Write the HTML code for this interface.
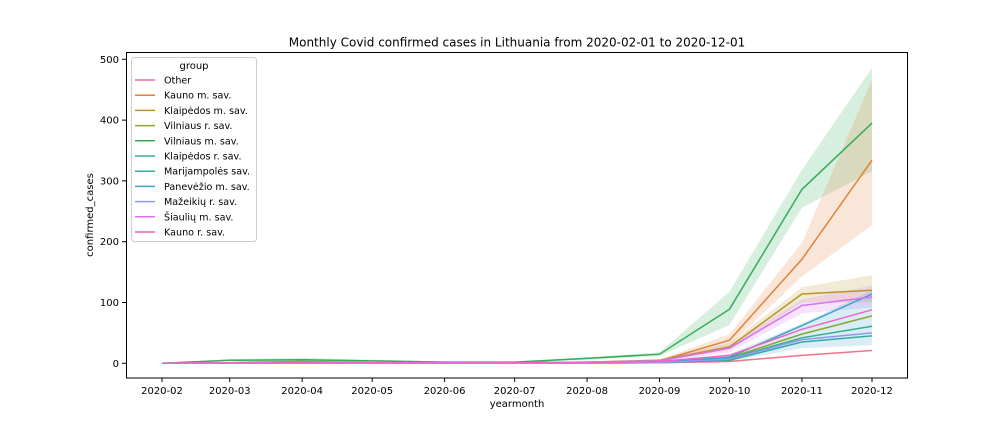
<!DOCTYPE html>
<html><head><meta charset="utf-8"><style>
html,body{margin:0;padding:0;background:#fff;}
svg{display:block;font-family:"DejaVu Sans","Liberation Sans",sans-serif;}
</style></head><body>
<svg id="chart" width="1008" height="432" viewBox="0 0 1008 432">
<text x="517" y="46.5" text-anchor="middle" font-size="12" fill="#000">Monthly Covid confirmed cases in Lithuania from 2020-02-01 to 2020-12-01</text>
<g id="bands"></g>
<g id="lines"></g>
<rect x="126.5" y="52.5" width="781" height="325.5" fill="none" stroke="#000" stroke-width="1"/>
<g id="xaxis"></g>
<g id="yaxis"></g>
<text x="517" y="407" text-anchor="middle" font-size="10">yearmonth</text>
<text x="0" y="0" transform="translate(93,215) rotate(-90)" text-anchor="middle" font-size="10">confirmed_cases</text>
<g id="legend"></g>
</svg>
<script>
const months = ["2020-02","2020-03","2020-04","2020-05","2020-06","2020-07","2020-08","2020-09","2020-10","2020-11","2020-12"];
const groups = ["Other","Kauno m. sav.","Klaipėdos m. sav.","Vilniaus r. sav.","Vilniaus m. sav.","Klaipėdos r. sav.","Marijampolės sav.","Panevėžio m. sav.","Mažeikių r. sav.","Šiaulių m. sav.","Kauno r. sav."];
const colors = ["#f77189","#e0823a","#b8962c","#8ea52f","#35ad58","#36ad8c","#37aaa6","#3ba3cc","#8f98f4","#d871f4","#f464c4"];
const vOther = [0,1,1,1,0,0,1,1,3,13,21];
const vKaunoM = [0,1,2,1,1,1,2,4,38,171,334];
const vKlaipedosM = [0,1,3,1,1,1,2,5,27,114,120];
const vVilniausR = [0,1,1,1,0,0,1,2,9,48,78];
const vVilniausM = [0,5,6,4,2,2,8,15,89,286,395];
const vKlaipedosR = [0,0,1,0,0,0,1,2,8,42,61];
const vMarijampoles = [0,0,0,0,0,0,0,1,5,35,45];
const vPanevezio = [0,0,1,0,0,0,1,2,10,62,114];
const vMazeikiu = [0,0,0,0,0,0,0,1,7,39,50];
const vSiauliu = [0,1,1,1,1,1,2,4,25,95,109];
const vKaunoR = [0,1,1,1,0,1,1,3,13,56,88];
const values = [vOther,vKaunoM,vKlaipedosM,vVilniausR,vVilniausM,vKlaipedosR,vMarijampoles,vPanevezio,vMazeikiu,vSiauliu,vKaunoR];
const loVilniausM = [0,3,3,2,1,1,6,12,63,256,316];
const hiVilniausM = [0,7,9,6,3,3,10,18,118,318,486];
const loKaunoM = [0,0,1,0,0,0,1,2,30,143,227];
const hiKaunoM = [0,2,4,2,2,2,3,6,48,198,466];
const loKlaipedosM = [0,0,1,0,0,0,1,3,22,100,100];
const hiKlaipedosM = [0,2,6,2,2,2,3,7,33,125,145];
const loSiauliu = [0,0,0,0,0,0,1,2,18,82,92];
const hiSiauliu = [0,2,2,2,2,2,3,6,30,105,128];
const loPanevezio = [0,0,0,0,0,0,0,1,3,25,30];
const hiPanevezio = [0,1,2,1,1,1,2,3,15,65,120];
const bandSeries = [4,1,2,9,7];
const bandLo = [loVilniausM,loKaunoM,loKlaipedosM,loSiauliu,loPanevezio];
const bandHi = [hiVilniausM,hiKaunoM,hiKlaipedosM,hiSiauliu,hiPanevezio];
const yTicks = [0,100,200,300,400,500];

const NS="http://www.w3.org/2000/svg";
const t0 = Date.UTC(2020,1,1), t1 = Date.UTC(2020,11,1);
function dayOf(m){const [y,mo]=m.split("-").map(Number);return Date.UTC(y,mo-1,1);}
function xS(m){return 162 + (dayOf(m)-t0)/(t1-t0)*(872-162);}
function yS(v){return 363.3 - v*(363.3-59.3)/500;}
function mk(tag,attrs,parent){const e=document.createElementNS(NS,tag);for(const k in attrs)e.setAttribute(k,attrs[k]);parent.appendChild(e);return e;}

const bands=document.getElementById("bands");
bandSeries.forEach((si,i)=>{
  let d="M"+months.map((m,j)=>xS(m).toFixed(1)+","+yS(bandHi[i][j]).toFixed(1)).join("L");
  for(let j=months.length-1;j>=0;j--) d+="L"+xS(months[j]).toFixed(1)+","+yS(bandLo[i][j]).toFixed(1);
  d+="Z";
  const p=mk("path",{d:d,fill:colors[si],"fill-opacity":"0.2",stroke:"none"},bands);
  
  
});
const lines=document.getElementById("lines");
values.forEach((vals,i)=>{
  const pts=months.map((m,j)=>xS(m).toFixed(1)+","+yS(vals[j]).toFixed(1)).join(" ");
  const pl=mk("polyline",{points:pts,fill:"none",stroke:colors[i],"stroke-width":"1.5"},lines);
  
  
});
const xa=document.getElementById("xaxis");
months.forEach(m=>{
  const x=xS(m);
  mk("line",{x1:x,x2:x,y1:378,y2:382,stroke:"#000"},xa);
  const t=mk("text",{x:x,y:394,"text-anchor":"middle","font-size":"10"},xa);
  t.textContent=m;
  
  
});
const ya=document.getElementById("yaxis");
yTicks.forEach(v=>{
  const y=yS(v);
  mk("line",{x1:122,x2:126,y1:y,y2:y,stroke:"#000"},ya);
  const t=mk("text",{x:119,y:y+3.5,"text-anchor":"end","font-size":"10"},ya);
  t.textContent=v;
  
  
});
const lg=document.getElementById("legend");
mk("rect",{x:131.5,y:57.5,width:125,height:184,rx:3,fill:"#fff","fill-opacity":"0.8",stroke:"#ccc"},lg);
const lt=mk("text",{x:194,y:69,"text-anchor":"middle","font-size":"10"},lg);
lt.textContent="group";


groups.forEach((g,i)=>{
  const y=80+i*15.2;
  mk("line",{x1:135,x2:155,y1:y,y2:y,stroke:colors[i],"stroke-width":"1.5"},lg);
  const t=mk("text",{x:164,y:y+3.5,"font-size":"9.6"},lg);
  t.textContent=g;
  
  
});
</script>
</body></html>
